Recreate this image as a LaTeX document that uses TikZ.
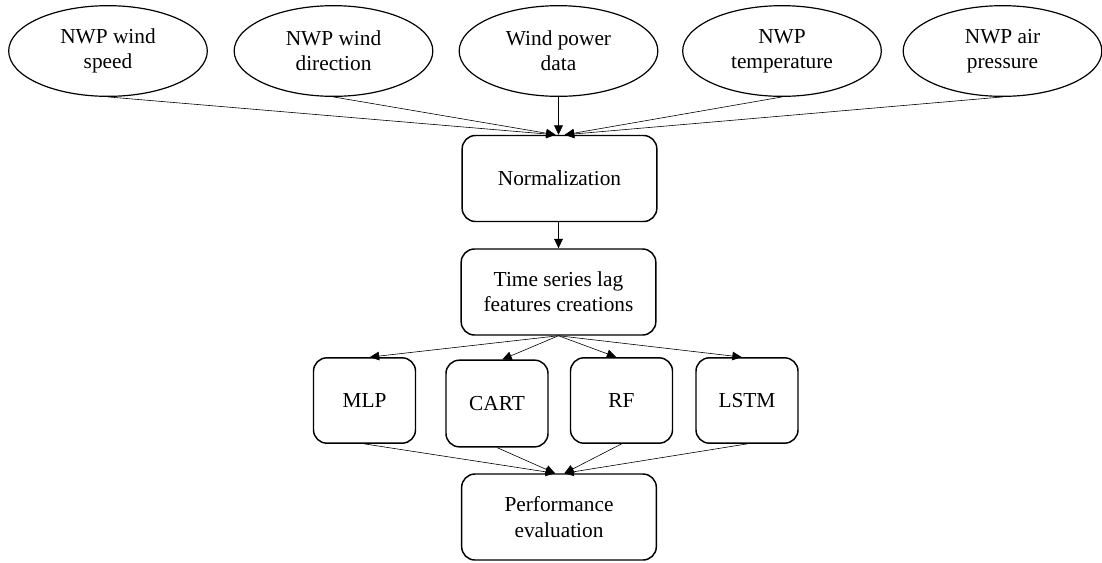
\documentclass[tikz,border=0pt]{standalone}
\usepackage{fontspec}
\setmainfont{Liberation Serif}
\usetikzlibrary{shapes.geometric, arrows.meta}

\begin{document}
\begin{tikzpicture}[x=0.75pt, y=-0.75pt, font=\fontsize{16}{19}\selectfont,
  inp/.style={ellipse, draw, line width=0.9pt, minimum width=149pt, minimum height=68pt, inner sep=0pt, align=center},
  blk/.style={draw, line width=1.1pt, rounded corners=10pt, minimum width=146pt, minimum height=64.5pt, align=center},
  mdl/.style={draw, line width=1.1pt, rounded corners=10pt, minimum width=76.5pt, minimum height=64pt, align=center},
  arr/.style={-{Triangle[length=7pt,width=6.5pt]}, line width=0.45pt}]
  \useasboundingbox (0,0) rectangle (1102,562);
  \node[inp] (speed) at (108,51) {NWP wind\\ speed};
  \node[inp] (dir) at (333.5,51) {NWP wind\\ direction};
  \node[inp] (power) at (558.5,51) {Wind power\\ data};
  \node[inp] (temp) at (782,51) {NWP\\ temperature};
  \node[inp] (press) at (1002.5,51) {NWP air\\ pressure};
  \node[blk] (norm) at (559.5,178.5) {Normalization};
  \node[blk] (lag) at (558.5,292) {Time series lag\\ features creations};
  \node[mdl] (mlp) at (364.5,400.5) {MLP};
  \node[mdl, minimum height=65pt] (cart) at (497,403.5) {CART};
  \node[mdl] (rf) at (621.5,400.5) {RF};
  \node[mdl] (lstm) at (747,400.5) {LSTM};
  \node[blk] (perf) at (559,517) {Performance\\ evaluation};
  \draw[arr] (speed.south) -- ([xshift=-3pt]norm.north);
  \draw[arr] (dir.south) -- ([xshift=-3pt]norm.north);
  \draw[arr] (power.south) -- (power.south |- norm.north);
  \draw[arr] (temp.south) -- ([xshift=4pt]norm.north);
  \draw[arr] (press.south) -- ([xshift=4pt]norm.north);
  \draw[arr] (lag.north |- norm.south) -- (lag.north);
  \draw[arr] (lag.south) -- ([xshift=4pt]mlp.north);
  \draw[arr] (lag.south) -- ([xshift=4pt]cart.north);
  \draw[arr] (lag.south) -- ([xshift=-4pt]rf.north);
  \draw[arr] (lag.south) -- ([xshift=-4pt]lstm.north);
  \draw[arr] (mlp.south) -- ([xshift=-3pt]perf.north);
  \draw[arr] (cart.south) -- ([xshift=-3pt]perf.north);
  \draw[arr] (rf.south) -- ([xshift=4pt]perf.north);
  \draw[arr] (lstm.south) -- ([xshift=4pt]perf.north);
\end{tikzpicture}
\end{document}
